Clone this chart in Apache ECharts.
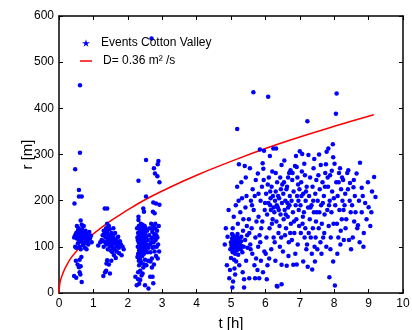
<!DOCTYPE html>
<html>
<head>
<meta charset="utf-8">
<script src="https://cdn.jsdelivr.net/npm/echarts@6/dist/echarts.min.js"></script>
<style>
  html, body { margin: 0; padding: 0; background: #fff; }
  #chart { width: 412px; height: 330px; }
</style>
</head>
<body>
<div id="chart"></div>
<script>
// events near the first injection stage, t [h], r [m]
let eventsA = [
  [0.61, 450], [0.61, 304], [0.47, 268], [0.58, 223], [0.58, 209], [0.66, 209], [0.45, 194], [0.63, 157],
  [0.44, 120], [0.47, 125], [0.5, 130], [0.52, 118], [0.55, 135], [0.57, 140], [0.58, 127], [0.6, 122],
  [0.62, 133], [0.64, 115], [0.65, 128], [0.67, 138], [0.68, 110], [0.7, 125], [0.72, 130], [0.73, 118],
  [0.75, 122], [0.77, 135], [0.78, 112], [0.8, 128], [0.82, 120], [0.85, 125], [0.88, 132], [0.9, 118],
  [0.93, 124], [0.55, 108], [0.6, 100], [0.63, 95], [0.5, 98], [0.7, 104], [0.75, 98], [0.8, 95],
  [0.85, 105], [0.95, 110], [0.47, 100], [0.52, 145], [0.66, 148], [0.72, 145], [0.58, 116], [0.68, 120],
  [0.49, 70], [0.6, 72], [0.58, 56], [0.63, 58], [0.6, 45], [0.44, 37], [0.5, 33], [0.66, 24],
  [0.62, 40], [0.54, 62], [0.65, 78], [0.62, 112], [0.7, 132], [0.74, 108], [0.56, 126], [0.79, 119],
  [0.83, 112], [0.87, 118]
];
let eventsB = [
  [1.33, 183], [1.4, 183], [1.14, 103], [1.2, 110], [1.24, 115], [1.27, 125], [1.3, 135], [1.32, 128],
  [1.35, 120], [1.37, 140], [1.4, 132], [1.42, 115], [1.44, 125], [1.45, 108], [1.47, 138], [1.5, 120],
  [1.52, 130], [1.53, 112], [1.55, 100], [1.57, 125], [1.58, 118], [1.6, 108], [1.62, 95], [1.63, 130],
  [1.65, 115], [1.67, 102], [1.68, 90], [1.7, 120], [1.72, 110], [1.74, 98], [1.75, 86], [1.77, 112],
  [1.8, 105], [1.82, 82], [1.85, 100], [1.88, 95], [1.38, 105], [1.42, 95], [1.5, 92], [1.55, 88],
  [1.6, 82], [1.65, 76], [1.35, 110], [1.48, 102], [1.58, 140], [1.45, 145], [1.4, 150], [1.3, 100],
  [1.28, 112], [1.72, 122], [1.4, 71], [1.38, 64], [1.45, 62], [1.34, 45], [1.37, 48], [1.48, 42],
  [1.29, 37], [1.52, 70], [1.46, 118], [1.54, 105], [1.62, 112], [1.69, 106], [1.36, 130], [1.58, 96]
];
let eventsC = [
  [2.53, 288], [2.89, 286], [2.87, 279], [2.76, 270], [2.79, 259], [2.86, 253], [2.31, 243], [2.92, 240],
  [2.53, 209], [2.74, 196], [2.82, 194], [2.92, 191], [2.45, 183], [2.47, 176], [2.73, 176], [2.78, 173],
  [2.31, 165], [2.31, 158], [2.69, 551],
  [2.27, 140], [2.28, 120], [2.29, 100], [2.3, 85], [2.3, 130], [2.32, 145], [2.32, 110], [2.33, 92],
  [2.34, 125], [2.35, 75], [2.35, 138], [2.36, 105], [2.37, 118], [2.38, 88], [2.38, 150], [2.39, 130],
  [2.4, 98], [2.4, 65], [2.41, 112], [2.42, 140], [2.42, 80], [2.43, 125], [2.44, 95], [2.45, 108],
  [2.45, 55], [2.46, 135], [2.47, 118], [2.47, 85], [2.48, 100], [2.49, 145], [2.5, 72], [2.5, 128],
  [2.51, 110], [2.52, 92], [2.53, 120], [2.54, 60], [2.55, 105], [2.56, 135], [2.57, 88], [2.58, 115],
  [2.59, 70], [2.6, 98], [2.33, 60], [2.36, 48], [2.43, 42], [2.28, 78], [2.39, 112], [2.44, 132],
  [2.34, 100], [2.41, 90], [2.37, 70], [2.48, 62], [2.52, 140], [2.29, 115], [2.46, 102],
  [2.31, 122], [2.33, 108], [2.36, 95], [2.38, 132], [2.4, 120], [2.42, 104], [2.44, 115], [2.46, 90],
  [2.49, 120], [2.51, 98], [2.35, 113], [2.39, 80], [2.43, 148], [2.47, 128], [2.32, 70], [2.37, 140],
  [2.62, 125], [2.64, 140], [2.65, 105], [2.66, 88], [2.68, 150], [2.69, 118], [2.7, 75], [2.71, 132],
  [2.72, 98], [2.74, 145], [2.75, 110], [2.76, 62], [2.77, 128], [2.78, 90], [2.8, 140], [2.81, 115],
  [2.82, 80], [2.84, 100], [2.85, 135], [2.86, 120], [2.88, 105], [2.9, 145], [2.91, 90], [2.7, 55],
  [2.8, 150], [2.66, 68], [2.73, 120], [2.87, 75], [2.68, 110], [2.76, 100], [2.83, 125], [2.72, 138],
  [2.22, 35], [2.3, 30], [2.36, 28], [2.26, 17], [2.33, 20], [2.65, 35], [2.72, 35], [2.6, 10],
  [2.5, 17], [2.74, 21], [2.4, 38], [2.3, 45]
];
let eventsD = [
  [4.82, 105], [4.88, 60], [4.9, 122], [4.95, 32], [4.97, 50], [4.98, 95], [4.85, 140], [4.93, 180],
  [5.0, 110], [5.02, 98], [5.03, 118], [5.05, 88], [5.06, 125], [5.07, 103], [5.08, 112], [5.1, 95],
  [5.11, 120], [5.12, 85], [5.13, 108], [5.15, 100], [5.16, 115], [5.17, 92], [5.18, 355], [5.19, 128],
  [5.2, 105], [5.21, 83], [5.22, 118], [5.23, 279], [5.04, 12], [5.06, 25], [5.1, 53], [5.12, 40],
  [5.15, 68], [5.2, 150], [5.08, 165], [5.22, 200], [5.18, 230], [5.05, 140], [5.14, 190], [5.24, 60],
  [5.01, 104], [5.04, 92], [5.09, 118], [5.11, 100], [5.14, 110], [5.17, 122], [5.19, 96], [5.23, 108],
  [5.03, 128], [5.07, 90], [5.13, 96], [5.25, 98], [5.0, 76], [5.09, 72],
  [5.26, 110], [5.28, 95], [5.3, 122], [5.31, 102], [5.33, 88], [5.35, 135], [5.36, 160], [5.38, 12],
  [5.38, 30], [5.4, 275], [5.41, 115], [5.42, 185], [5.44, 70], [5.45, 210], [5.46, 145], [5.48, 98],
  [5.3, 240], [5.34, 45], [5.27, 175], [5.43, 250], [5.47, 125], [5.32, 205], [5.29, 112], [5.37, 100],
  [5.53, 32], [5.55, 270], [5.52, 160], [5.56, 105], [5.58, 200], [5.6, 140], [5.62, 85], [5.63, 225],
  [5.65, 435], [5.66, 180], [5.68, 60], [5.7, 32], [5.71, 120], [5.72, 245], [5.74, 155], [5.57, 95],
  [5.61, 190], [5.69, 210], [5.53, 130], [5.73, 75],
  [5.78, 259], [5.8, 165], [5.82, 32], [5.84, 311], [5.85, 110], [5.86, 200], [5.88, 140], [5.9, 230],
  [5.92, 281], [5.94, 269], [5.96, 308], [5.97, 90], [5.98, 180], [5.77, 50], [5.8, 215], [5.83, 125],
  [5.87, 70], [5.91, 155], [5.95, 245], [5.99, 195], [5.79, 100], [5.93, 45],
  [6.02, 215], [6.04, 30], [6.05, 170], [6.08, 425], [6.1, 250], [6.12, 140], [6.13, 297], [6.14, 190],
  [6.15, 205], [6.17, 95], [6.18, 230], [6.2, 263], [6.21, 160], [6.22, 210], [6.23, 313], [6.24, 120],
  [6.03, 120], [6.06, 60], [6.09, 195], [6.11, 75], [6.16, 180], [6.19, 150], [6.07, 235], [6.01, 85],
  [6.14, 220], [6.24, 185],
  [6.26, 175], [6.28, 200], [6.3, 220], [6.31, 313], [6.32, 155], [6.33, 15], [6.34, 240], [6.35, 14],
  [6.36, 185], [6.38, 130], [6.4, 205], [6.42, 100], [6.43, 250], [6.44, 170], [6.45, 225], [6.47, 19],
  [6.47, 61], [6.47, 277], [6.48, 195], [6.27, 110], [6.29, 70], [6.33, 190], [6.37, 210], [6.41, 145],
  [6.46, 120], [6.49, 235], [6.39, 180], [6.3, 260],
  [6.52, 215], [6.55, 287], [6.56, 180], [6.58, 200], [6.6, 140], [6.62, 59], [6.63, 230], [6.65, 165],
  [6.66, 250], [6.68, 110], [6.7, 190], [6.71, 210], [6.73, 266], [6.74, 150], [6.51, 90], [6.54, 240],
  [6.57, 125], [6.59, 170], [6.61, 225], [6.64, 195], [6.67, 80], [6.69, 260], [6.72, 130], [6.53, 160],
  [6.66, 185],
  [6.76, 200], [6.78, 245], [6.8, 175], [6.81, 61], [6.82, 220], [6.84, 130], [6.86, 275], [6.88, 190],
  [6.89, 297], [6.9, 160], [6.91, 62], [6.91, 273], [6.92, 210], [6.94, 105], [6.95, 235], [6.97, 180],
  [6.98, 145], [7.0, 307], [6.77, 115], [6.83, 155], [6.87, 85], [6.93, 250], [6.96, 200], [6.99, 225],
  [6.79, 260],
  [7.02, 190], [7.04, 240], [7.06, 263], [7.07, 301], [7.08, 150], [7.1, 68], [7.1, 215], [7.12, 175],
  [7.14, 120], [7.15, 255], [7.17, 200], [7.19, 95], [7.2, 230], [7.22, 372], [7.23, 57], [7.24, 185],
  [7.25, 299], [7.03, 130], [7.05, 210], [7.09, 165], [7.13, 280], [7.16, 140], [7.18, 220], [7.21, 105],
  [7.27, 210], [7.29, 160], [7.3, 250], [7.32, 120], [7.34, 190], [7.36, 51], [7.37, 230], [7.38, 140],
  [7.4, 270], [7.41, 175], [7.43, 100], [7.44, 68], [7.45, 215], [7.47, 155], [7.48, 245], [7.26, 130],
  [7.31, 185], [7.35, 85], [7.39, 200], [7.42, 290], [7.46, 120], [7.49, 175],
  [7.52, 200], [7.54, 255], [7.55, 140], [7.57, 175], [7.58, 225], [7.6, 110], [7.61, 277], [7.62, 190],
  [7.64, 150], [7.66, 240], [7.68, 120], [7.7, 210], [7.72, 170], [7.74, 260], [7.51, 95], [7.56, 300],
  [7.63, 85], [7.67, 195], [7.71, 130], [7.73, 230],
  [7.76, 279], [7.78, 306], [7.8, 180], [7.82, 230], [7.83, 313], [7.84, 145], [7.86, 34], [7.87, 200],
  [7.88, 255], [7.9, 120], [7.92, 175], [7.94, 220], [7.96, 322], [7.97, 294], [7.97, 68], [7.98, 150],
  [7.77, 100], [7.81, 250], [7.85, 190], [7.89, 95], [7.93, 265], [7.99, 205],
  [8.02, 16], [8.03, 190], [8.05, 388], [8.07, 432], [8.06, 240], [8.08, 150], [8.1, 210], [8.12, 120],
  [8.14, 260], [8.15, 180], [8.17, 270], [8.18, 105], [8.2, 225], [8.22, 160], [8.24, 200], [8.01, 280],
  [8.09, 85], [8.13, 240], [8.19, 135], [8.23, 250],
  [8.26, 245], [8.28, 115], [8.3, 190], [8.32, 215], [8.35, 160], [8.38, 260], [8.41, 266], [8.43, 115],
  [8.45, 200], [8.46, 238], [8.48, 175], [8.33, 140], [8.4, 225], [8.27, 180], [8.49, 95],
  [8.52, 190], [8.54, 120], [8.56, 229], [8.58, 155], [8.6, 210], [8.62, 175], [8.65, 259], [8.67, 140],
  [8.69, 147], [8.72, 200], [8.74, 110], [8.75, 282], [8.57, 245],
  [8.8, 228], [8.8, 175], [8.83, 210], [8.86, 130], [8.9, 195], [8.94, 160], [8.98, 240], [9.0, 186],
  [9.05, 145], [9.1, 220], [9.16, 251], [9.2, 208], [8.85, 100], [9.08, 175]
];

// diffusion front
let frontT = [0, 0.02, 0.05, 0.1, 0.2, 0.35, 0.5, 0.75, 1, 1.5, 2, 2.5, 3, 4, 5, 6, 7, 8, 9.15];
let frontR = [0, 18, 29, 40, 57, 76, 90, 111, 128, 156, 180, 202, 221, 255, 285, 313, 338, 361, 386];

let xTicks = {min: 0, max: 10, interval: 1};
let yTicks = {min: 0, max: 600, interval: 100};

let events = eventsA.concat(eventsB, eventsC, eventsD);
let front = frontT.map(function (t, i) {
  return [t, frontR[i]];
});

let font = 'Liberation Sans, Arial, sans-serif';
let starPath = 'path://M50,0 L61,35 L98,35 L68,57 L79,91 L50,70 L21,91 L32,57 L2,35 L39,35 Z';

function boxAxis(pos, ticks, showLabel) {
  return {
    type: 'value',
    position: pos,
    min: ticks.min,
    max: ticks.max,
    interval: ticks.interval,
    splitLine: {show: false},
    axisLine: {show: true, onZero: false, lineStyle: {color: '#000', width: 1.5}},
    axisTick: {show: true, inside: true, length: 4, lineStyle: {color: '#000', width: 1}},
    axisLabel: {show: showLabel, color: '#000', fontFamily: font, fontSize: 12, margin: 5}
  };
}

let xBottom = boxAxis('bottom', xTicks, true);
xBottom.name = 't [h]';
xBottom.nameLocation = 'middle';
xBottom.nameGap = 23;
xBottom.nameMoveOverlap = false;
xBottom.nameTextStyle = {color: '#000', fontFamily: font, fontSize: 15};
let yLeft = boxAxis('left', yTicks, true);
yLeft.name = 'r [m]';
yLeft.nameLocation = 'middle';
yLeft.nameGap = 24;
yLeft.nameMoveOverlap = false;
yLeft.nameTextStyle = {color: '#000', fontFamily: font, fontSize: 15};

let option = {
  backgroundColor: '#fff',
  animation: false,
  grid: {left: 59, right: 9, top: 16, bottom: 37, outerBoundsMode: 'none', containLabel: false},
  xAxis: [xBottom, boxAxis('top', xTicks, false)],
  yAxis: [yLeft, boxAxis('right', yTicks, false)],
  legend: [
    {
      data: [{name: 'Events Cotton Valley', icon: starPath}],
      left: 77, top: 32, itemWidth: 8, itemHeight: 8, itemGap: 4,
      textStyle: {color: '#000', fontFamily: font, fontSize: 12, padding: [0, 0, 0, 6]}
    },
    {
      data: [{name: 'D= 0.36 m² /s', icon: 'rect'}],
      left: 75, top: 50, itemWidth: 12, itemHeight: 1.5,
      textStyle: {color: '#000', fontFamily: font, fontSize: 12, padding: [0, 0, 0, 6]}
    }
  ],
  series: [
    {
      name: 'Events Cotton Valley',
      type: 'scatter',
      data: events,
      symbol: 'circle',
      symbolSize: 4.5,
      itemStyle: {color: '#0000ff', opacity: 1},
      z: 3
    },
    {
      name: 'D= 0.36 m² /s',
      type: 'line',
      data: front,
      smooth: true,
      showSymbol: false,
      symbol: 'none',
      lineStyle: {color: '#ff0000', width: 1.5},
      itemStyle: {color: '#ff0000'},
      z: 2
    }
  ]
};

let myChart = echarts.init(document.getElementById('chart'));
myChart.setOption(option);
</script>
</body>
</html>
